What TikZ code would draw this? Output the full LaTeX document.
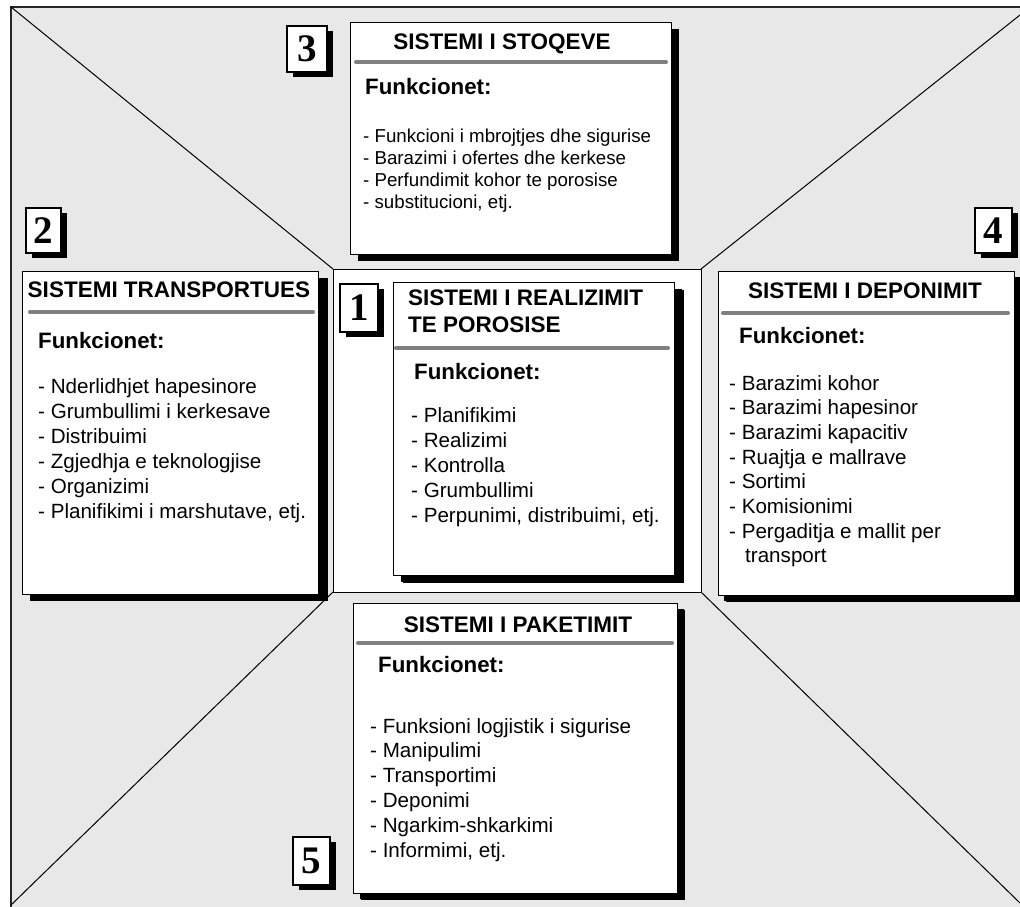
\documentclass[tikz,border=0pt]{standalone}
\usepackage{fontspec}
\setmainfont{Liberation Sans}
\newfontfamily\numfont{Liberation Serif}
\usetikzlibrary{shadows}
\definecolor{field}{RGB}{232,232,232}
\definecolor{rulegray}{RGB}{128,128,128}
\tikzset{
  x=1pt, y=-1pt,
  panel/.style={draw=black, line width=1.4pt, fill=white, inner sep=0pt,
    anchor=north west,
    drop shadow={shadow xshift=7pt, shadow yshift=-6pt, fill=black, opacity=1}},
  numbox/.style={draw=black, line width=1.4pt, fill=white, inner sep=0pt,
    font=\numfont\fontsize{39}{39}\selectfont\bfseries,
    drop shadow={shadow xshift=6pt, shadow yshift=-5pt, fill=black, opacity=1}},
  title/.style={font=\fontsize{22.5}{27}\selectfont\bfseries, inner sep=0pt},
  head/.style={font=\fontsize{22.3}{26}\selectfont\bfseries, inner sep=0pt, anchor=base west},
  entry/.style={font=\fontsize{20.6}{25}\selectfont, inner sep=0pt, anchor=base west},
  smallentry/.style={font=\fontsize{18.7}{22}\selectfont, inner sep=0pt, anchor=base west},
  sep/.style={draw=rulegray, line width=4pt, line cap=round},
  diag/.style={draw=black, line width=1pt},
}
\begin{document}
\begin{tikzpicture}
\useasboundingbox (0,0) rectangle (1020,907);
% grey field with its frame on the left and top
\fill[field] (11,7) rectangle (1020,907);
\draw[line width=1.8pt, draw=black!85] (11,907) -- (11,7) -- (1020,7);

% diagonals from the field corners to the central square
\coordinate (ctl) at (333,269);
\coordinate (ctr) at (701,269);
\coordinate (cbl) at (333,592);
\coordinate (cbr) at (701,592);
\coordinate (ftl) at (11,7);
\coordinate (ftr) at (1020,15);
\coordinate (fbl) at (11,905);
\coordinate (fbr) at (1020,903);
\draw[diag] (ftl) -- (ctl);
\draw[diag] (ftr) -- (ctr);
\draw[diag] (fbl) -- (cbl);
\draw[diag] (fbr) -- (cbr);

% central square
\node[draw=black, line width=1pt, fill=white, inner sep=0pt, anchor=north west,
  minimum width=368pt, minimum height=323pt] (core) at (ctl) {};

% ---- 3: SISTEMI I STOQEVE
\node[panel, minimum width=321pt, minimum height=232pt] (b3) at (350,22) {};
\node[title, anchor=base] (b3t) at (502,49) {SISTEMI I STOQEVE};
\draw[sep] (356,62) -- (666,62);
\node[head] (b3h) at (365,95) {Funkcionet:};
\foreach \t [count=\i] in {- Funkcioni i mbrojtjes dhe sigurise,
    - Barazimi i ofertes dhe kerkese,
    - Perfundimit kohor te porosise,
    {- substitucioni, etj.}}
  \node[smallentry] (b3i\i) at (363,{142+22*(\i-1)}) {\t};

% ---- 2: SISTEMI TRANSPORTUES
\node[panel, minimum width=296pt, minimum height=323pt,
  drop shadow={shadow xshift=9pt, shadow yshift=-6pt, fill=black, opacity=1}] (b2) at (22,271) {};
\node[title, anchor=base] (b2t) at (169,297) {SISTEMI TRANSPORTUES};
\draw[sep] (30,312) -- (313,312);
\node[head] (b2h) at (38,348) {Funkcionet:};
\foreach \t [count=\i] in {- Nderlidhjet hapesinore,
    - Grumbullimi i kerkesave,
    - Distribuimi,
    - Zgjedhja e teknologjise,
    - Organizimi,
    {- Planifikimi i marshutave, etj.}}
  \node[entry] (b2i\i) at (38,{393+25*(\i-1)}) {\t};

% ---- 1: SISTEMI I REALIZIMIT TE POROSISE
\node[panel, minimum width=281pt, minimum height=293pt,
  drop shadow={shadow xshift=9pt, shadow yshift=-7pt, fill=black, opacity=1}] (b1) at (393,282) {};
\node[title, anchor=base west] (b1t) at (408,305) {SISTEMI I REALIZIMIT};
\node[title, anchor=base west] (b1u) at (408,332) {TE POROSISE};
\draw[sep] (396,348) -- (668,348);
\node[head] (b1h) at (414,379) {Funkcionet:};
\foreach \t [count=\i] in {- Planifikimi,
    - Realizimi,
    - Kontrolla,
    - Grumbullimi,
    {- Perpunimi, distribuimi, etj.}}
  \node[entry] (b1i\i) at (411,{422+25*(\i-1)}) {\t};

% ---- 4: SISTEMI I DEPONIMIT
\node[panel, minimum width=296pt, minimum height=324pt,
  drop shadow={shadow xshift=5pt, shadow yshift=-5pt, fill=black, opacity=1}] (b4) at (718,271) {};
\node[title, anchor=base] (b4t) at (865,298) {SISTEMI I DEPONIMIT};
\draw[sep] (723,313) -- (1008,313);
\node[head] (b4h) at (739,343) {Funkcionet:};
\foreach \t [count=\i] in {- Barazimi kohor,
    - Barazimi hapesinor,
    - Barazimi kapacitiv,
    - Ruajtja e mallrave,
    - Sortimi,
    - Komisionimi,
    - Pergaditja e mallit per}
  \node[entry] (b4i\i) at (729,{390+24.7*(\i-1)}) {\t};
\node[entry] (b4i8) at (745,562) {transport};

% ---- 5: SISTEMI I PAKETIMIT
\node[panel, minimum width=324pt, minimum height=290pt,
  drop shadow={shadow xshift=6pt, shadow yshift=-5pt, fill=black, opacity=1}] (b5) at (353,603) {};
\node[title, anchor=base] (b5t) at (518,632) {SISTEMI I PAKETIMIT};
\draw[sep] (358,643) -- (672,643);
\node[head] (b5h) at (378,672) {Funkcionet:};
\foreach \t [count=\i] in {- Funksioni logjistik i sigurise,
    - Manipulimi,
    - Transportimi,
    - Deponimi,
    - Ngarkim-shkarkimi,
    {- Informimi, etj.}}
  \node[entry] (b5i\i) at (370,{733+24.8*(\i-1)}) {\t};

% ---- number tags
\node[numbox, minimum width=40pt, minimum height=46pt] (n3) at (307,49) {3};
\node[numbox, minimum width=35pt, minimum height=45pt] (n2) at (43.5,230.5) {2};
\node[numbox, minimum width=38pt, minimum height=48pt] (n1) at (359,308) {1};
\node[numbox, minimum width=37pt, minimum height=45pt] (n4) at (993.5,230.5) {4};
\node[numbox, minimum width=37pt, minimum height=48pt] (n5) at (311.5,861) {5};
\end{tikzpicture}
\end{document}
